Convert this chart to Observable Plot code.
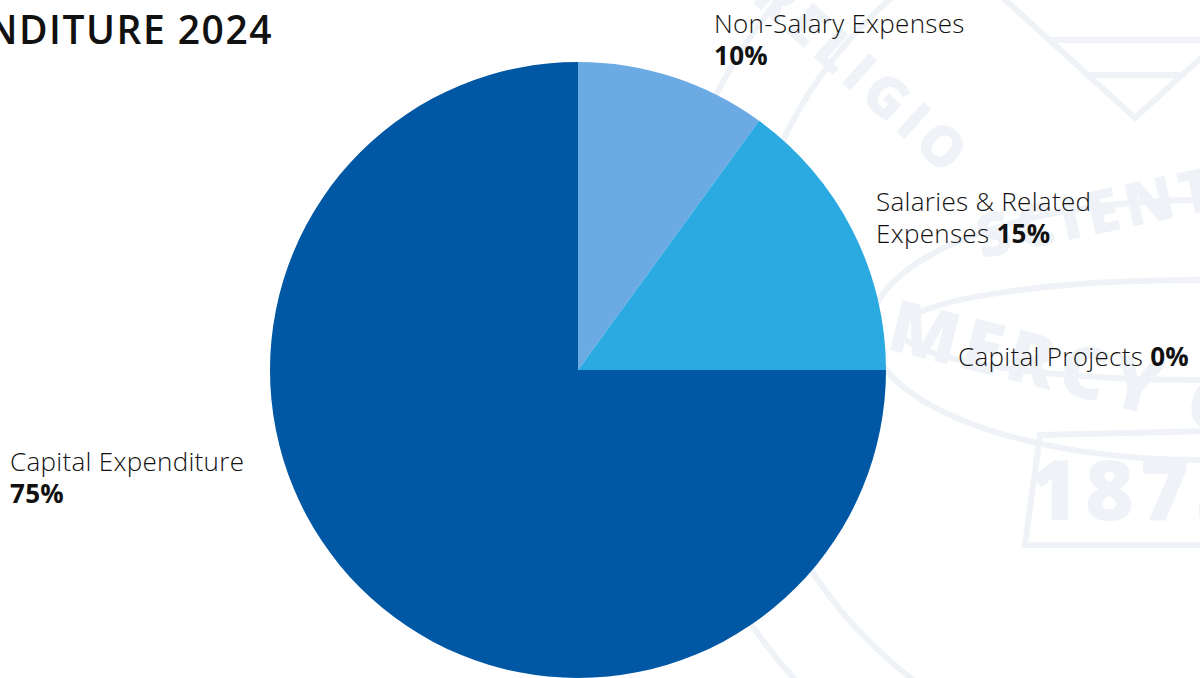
<!DOCTYPE html>
<html>
<head>
<meta charset="utf-8">
<script src="https://cdn.jsdelivr.net/npm/d3@7"></script>
<script src="https://cdn.jsdelivr.net/npm/@observablehq/plot@0.6"></script>
<style>
  html, body { margin: 0; padding: 0; background: #ffffff; overflow: hidden; }
  #chart svg { display: block; }
</style>
</head>
<body>
<div id="chart"></div>
<script>
// ---- data ----
const categories = ["Non-Salary Expenses", "Salaries & Related Expenses", "Capital Projects", "Capital Expenditure"];
const shares = [10, 15, 0, 75];
const labelLines = [
  [["Non-Salary Expenses", ""], ["", "10%"]],
  [["Salaries & Related", ""], ["Expenses ", "15%"]],
  [["Capital Projects ", "0%"]],
  [["Capital Expenditure", ""], ["", "75%"]]
];
const titleText = "EXPENDITURE 2024";
const sealWords = ["RELIGIO", "SCIENTIA", "MERCY CO", "1875"];

// ---- styles / layout ----
const palette = ["#6baae2", "#2aaae1", "#1f6fb8", "#0057a4"];
const labelAnchors = [[714, 33], [876, 211], [958, 366], [10, 471]];
const W = 1200, H = 678;
const cx = 578, cy = 370, R = 308;

const table = categories.map((c, i) => ({category: c, share: shares[i], lines: labelLines[i], anchor: labelAnchors[i]}));
const pie = d3.pie().sort(null).value(d => d.share)(table);

const svgNS = "http://www.w3.org/2000/svg";
function el(name, attrs) {
  const e = document.createElementNS(svgNS, name);
  for (const k in attrs) e.setAttribute(k, attrs[k]);
  return e;
}

function pieMark(index, scales) {
  const x0 = scales.x(0), y0 = scales.y(0);
  const r = Math.abs(scales.x(R) - scales.x(0));
  const arc = d3.arc().innerRadius(0).outerRadius(r);
  const g = el("g", {transform: `translate(${x0},${y0})`});
  pie.forEach((p, i) => {
    if (p.endAngle - p.startAngle <= 0) return;
    g.appendChild(el("path", {d: arc(p), fill: palette[i]}));
  });
  return g;
}

function labelMark(index, scales) {
  const g = el("g", {"font-family": "'Open Sans', sans-serif", "font-size": 26, "letter-spacing": 0.3, fill: "#111111", "text-anchor": "start"});
  table.forEach(d => {
    const [ax, ay] = d.anchor;
    d.lines.forEach((ln, j) => {
      const t = el("text", {x: scales.x(ax - cx), y: scales.y(cy - (ay + j * 32)), style: "white-space: pre"});
      if (ln[0]) {
        const s = el("tspan", {"font-weight": 300});
        s.textContent = ln[0];
        t.appendChild(s);
      }
      if (ln[1]) {
        const b = el("tspan", {"font-weight": 700});
        b.textContent = ln[1];
        t.appendChild(b);
      }
      g.appendChild(t);
    });
  });
  return g;
}

function watermark(index, scales) {
  const c = "#eff3f8";
  const X = v => scales.x(v - cx), Y = v => scales.y(cy - v);
  const g = el("g", {fill: "none", stroke: c, "stroke-width": 6});
  // rings of the seal
  g.appendChild(el("circle", {cx: X(1180), cy: Y(330), r: 520}));
  g.appendChild(el("circle", {cx: X(1180), cy: Y(330), r: 440}));
  g.appendChild(el("ellipse", {cx: X(1200), cy: Y(330), rx: 330, ry: 130}));
  g.appendChild(el("ellipse", {cx: X(1200), cy: Y(330), rx: 300, ry: 50}));
  // chevron
  g.appendChild(el("path", {d: `M${X(1000)},${Y(-5)} L${X(1135)},${Y(118)} L${X(1270)},${Y(-5)}`}));
  g.appendChild(el("path", {d: `M${X(1050)},${Y(40)} L${X(1220)},${Y(40)} M${X(1085)},${Y(75)} L${X(1185)},${Y(75)}`}));
  // 1875 box
  g.appendChild(el("path", {d: `M${X(1250)},${Y(430)} L${X(1040)},${Y(435)} L${X(1025)},${Y(545)} L${X(1250)},${Y(545)}`}));
  const tg = el("g", {fill: c, stroke: "none", "font-family": "'Open Sans', sans-serif", "font-weight": 800, "text-anchor": "middle"});
  const words = [
    [sealWords[0], 850, 90, 42, 56],
    [sealWords[1], 1140, 225, -12, 60],
    [sealWords[2], 1090, 400, 14, 72],
    [sealWords[3], 1140, 520, 0, 84]
  ];
  words.forEach(([w, x, y, rot, fs]) => {
    const t = el("text", {transform: `translate(${X(x)},${Y(y)}) rotate(${rot})`, "font-size": fs, "letter-spacing": 6});
    t.textContent = w;
    tg.appendChild(t);
  });
  g.appendChild(tg);
  return g;
}

function titleMark(index, scales) {
  const t = el("text", {
    x: scales.x(273 - cx), y: scales.y(cy - 44), "text-anchor": "end",
    "font-family": "'Open Sans', sans-serif", "font-weight": 600, "font-size": 39,
    "letter-spacing": 1.5, fill: "#111111"
  });
  t.textContent = titleText;
  return t;
}

const chart = Plot.plot({
  width: W,
  height: H,
  margin: 0,
  x: {domain: [-cx, W - cx], range: [0, W], axis: null},
  y: {domain: [cy, cy - H], range: [0, H], axis: null},
  style: {background: "#ffffff", overflow: "hidden"},
  marks: [
    watermark,
    pieMark,
    labelMark,
    titleMark
  ]
});
document.getElementById("chart").appendChild(chart);
</script>
</body>
</html>
